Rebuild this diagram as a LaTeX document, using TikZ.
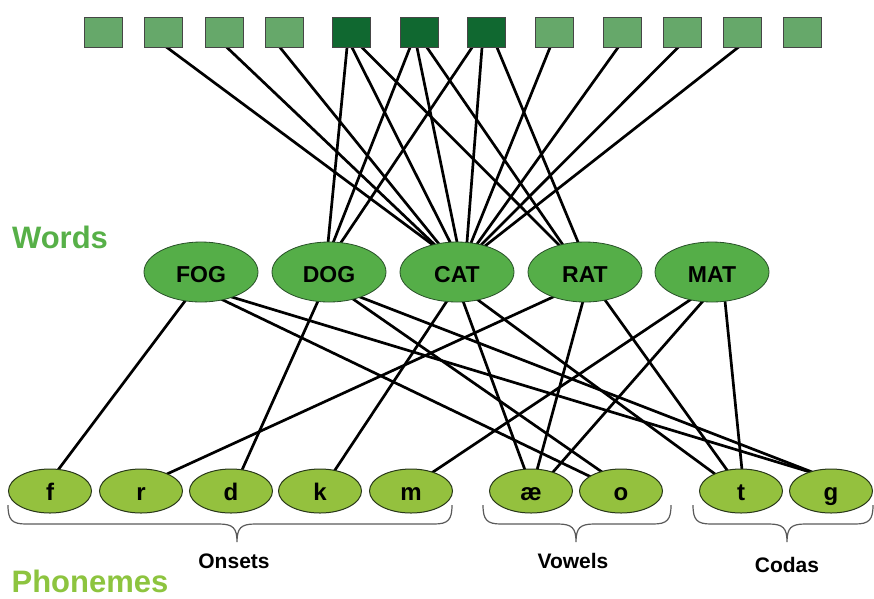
\documentclass[tikz,border=0pt]{standalone}
\usepackage{fontspec}
\setmainfont{Liberation Sans}
\usetikzlibrary{shapes.geometric,calc}
\pgfdeclarelayer{bg}
\pgfsetlayers{bg,main}
\definecolor{sqlight}{RGB}{102,168,106}
\definecolor{sqdarkc}{RGB}{16,104,48}
\definecolor{sqborder}{RGB}{70,70,70}
\definecolor{wordfill}{RGB}{85,174,72}
\definecolor{wordborder}{RGB}{40,80,40}
\definecolor{phonfill}{RGB}{148,193,62}
\definecolor{phonborder}{RGB}{40,55,25}
\definecolor{wordslab}{RGB}{87,176,72}
\definecolor{phonlab}{RGB}{141,196,63}
\definecolor{bracec}{RGB}{90,90,90}
\newcommand\mybrace[3]{%
  \draw[bracestyle] (#1,505) .. controls (#1,520) and ({#1+4},524) .. ({#1+18},524)
    -- ({#3-18},524) .. controls ({#3-4},524) and (#3,528) .. (#3,542)
    .. controls (#3,528) and ({#3+4},524) .. ({#3+18},524)
    -- ({#2-18},524) .. controls ({#2-4},524) and (#2,520) .. (#2,505);}
\begin{document}
\begin{tikzpicture}[x=1pt,y=-1pt,
  sqbox/.style={draw=sqborder, line width=1pt, minimum width=38pt, minimum height=30pt, inner sep=0pt, fill=sqlight},
  sqdark/.style={sqbox, fill=sqdarkc},
  wordnode/.style={ellipse, draw=wordborder, line width=0.8pt, fill=wordfill, minimum width=114pt, minimum height=60pt, inner sep=0pt, font=\fontsize{23}{23}\selectfont\bfseries, text height=20pt, text depth=0pt},
  phon/.style={ellipse, draw=phonborder, line width=1pt, fill=phonfill, minimum width=83pt, minimum height=44pt, inner sep=0pt, font=\fontsize{24}{24}\selectfont\bfseries, text height=18pt, text depth=0pt},
  conn/.style={line width=2.7pt, black, shorten <=-5pt, shorten >=-5pt},
  bracestyle/.style={draw=bracec, line width=1.2pt},
  grplab/.style={font=\fontsize{21}{21}\selectfont\bfseries, anchor=base, inner sep=0pt},
  biglab/.style={font=\fontsize{31}{31}\selectfont\bfseries, anchor=base, inner sep=0pt}
]
\useasboundingbox (0,0) rectangle (874,598);
% squares
\node[sqbox] (s1) at (103,32) {};
\node[sqbox] (s2) at (163,32) {};
\node[sqbox] (s3) at (224,32) {};
\node[sqbox] (s4) at (284,32) {};
\node[sqdark] (s5) at (351,32) {};
\node[sqdark] (s6) at (419,32) {};
\node[sqdark] (s7) at (486,32) {};
\node[sqbox] (s8) at (554,32) {};
\node[sqbox] (s9) at (622,32) {};
\node[sqbox] (s10) at (682,32) {};
\node[sqbox] (s11) at (742,32) {};
\node[sqbox] (s12) at (802,32) {};
% words
\node[wordnode] (FOG) at (201,272) {FOG};
\node[wordnode] (DOG) at (329,272) {DOG};
\node[wordnode] (CAT) at (457,272) {CAT};
\node[wordnode] (RAT) at (585,272) {RAT};
\node[wordnode] (MAT) at (712,272) {MAT};
% phonemes
\node[phon] (pf) at (50,491) {f};
\node[phon] (pr) at (141,491) {r};
\node[phon] (pd) at (231,491) {d};
\node[phon] (pk) at (320,491) {k};
\node[phon] (pm) at (411,491) {m};
\node[phon] (pae) at (531,491) {æ};
\node[phon] (po) at (621,491) {o};
\node[phon] (pt) at (741,491) {t};
\node[phon] (pg) at (831,491) {g};
% labels
\node[biglab, text=wordslab] (lwords) at (60,248) {Words};
\node[biglab, text=phonlab] (lphon) at (90,592) {Phonemes};
\node[grplab] (lons) at (234,568) {Onsets};
\node[grplab] (lvow) at (573,568) {Vowels};
\node[grplab] (lcod) at (787,572) {Codas};
% braces
\mybrace{8}{452}{237}
\mybrace{483}{671}{576}
\mybrace{693}{873}{787}
\begin{pgfonlayer}{bg}
% squares to words
\draw[conn] ($(s2.south)+(4,0)$) -- ($(CAT)+(-24,-27)$);
\draw[conn] ($(s3.south)+(3,0)$) -- ($(CAT)+(-22,-27)$);
\draw[conn] ($(s4.south)+(-4,0)$) -- ($(CAT)+(-18,-28)$);
\draw[conn] ($(s5.south)+(-4,0)$) -- ($(DOG)+(-1,-29)$);
\draw[conn] ($(s5.south)+(1,0)$) -- ($(CAT)+(-7,-30)$);
\draw[conn] ($(s5.south)+(11,0)$) -- ($(RAT)+(-26,-27)$);
\draw[conn] ($(s6.south)+(-9,0)$) -- ($(DOG)+(4,-29)$);
\draw[conn] ($(s6.south)+(-2,0)$) -- ($(CAT)+(0,-30)$);
\draw[conn] ($(s6.south)+(8,0)$) -- ($(RAT)+(-22,-27)$);
\draw[conn] ($(s7.south)+(-14,0)$) -- ($(DOG)+(11,-28)$);
\draw[conn] ($(s7.south)+(-4,0)$) -- ($(CAT)+(10,-30)$);
\draw[conn] ($(s7.south)+(11,0)$) -- ($(RAT)+(-7,-30)$);
\draw[conn] ($(s8.south)+(-4,0)$) -- ($(CAT)+(14,-29)$);
\draw[conn] ($(s9.south)+(-4,0)$) -- ($(CAT)+(20,-28)$);
\draw[conn] ($(s10.south)+(-4,0)$) -- ($(CAT)+(24,-27)$);
\draw[conn] ($(s11.south)+(-4,0)$) -- ($(CAT)+(28,-26)$);
% words to phonemes
\draw[conn] ($(FOG)+(-16,29)$) -- ($(pf)+(8,-21)$);
\draw[conn] ($(FOG)+(22,28)$) -- ($(po)+(-34,-16)$);
\draw[conn] ($(FOG)+(34,26)$) -- ($(pg)+(-21,-19)$);
\draw[conn] ($(DOG)+(-11,29)$) -- ($(pd)+(11,-21)$);
\draw[conn] ($(DOG)+(24,27)$) -- ($(po)+(-19,-19)$);
\draw[conn] ($(DOG)+(31,25)$) -- ($(pg)+(-19,-19)$);
\draw[conn] ($(CAT)+(-10,29)$) -- ($(pk)+(15,-21)$);
\draw[conn] ($(CAT)+(6,29)$) -- ($(pae)+(-6,-21)$);
\draw[conn] ($(CAT)+(21,28)$) -- ($(pt)+(-26,-17)$);
\draw[conn] ($(RAT)+(-32,25)$) -- ($(pr)+(26,-17)$);
\draw[conn] ($(RAT)+(-2,29)$) -- ($(pae)+(6,-21)$);
\draw[conn] ($(RAT)+(20,28)$) -- ($(pt)+(-14,-21)$);
\draw[conn] ($(MAT)+(-22,28)$) -- ($(pm)+(22,-19)$);
\draw[conn] ($(MAT)+(-9,29)$) -- ($(pae)+(22,-19)$);
\draw[conn] ($(MAT)+(13,29)$) -- ($(pt)+(1,-21)$);
\end{pgfonlayer}
\end{tikzpicture}
\end{document}
